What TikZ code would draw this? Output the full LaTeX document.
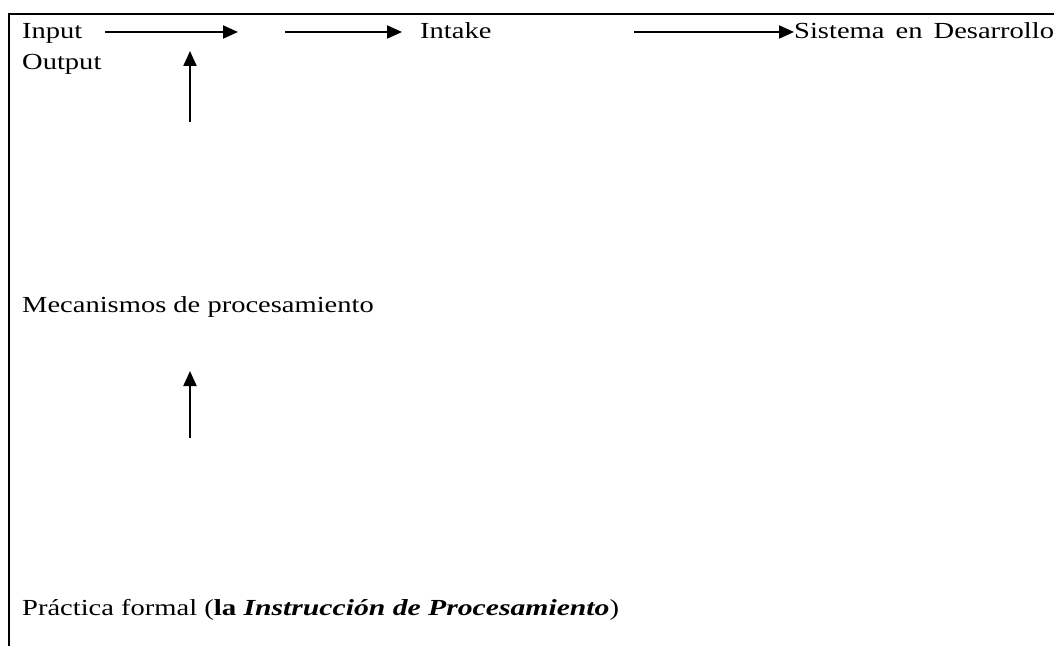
\documentclass[tikz,border=0pt]{standalone}
\usepackage{fontspec}
\setmainfont{Liberation Serif}[FakeStretch=1.24,BoldFeatures={FakeStretch=1.26},BoldItalicFeatures={FakeStretch=1.29}]
\usetikzlibrary{arrows.meta}
\begin{document}
\begin{tikzpicture}[x=1bp,y=-1bp,
  lbl/.style={anchor=base west,inner sep=0pt,font=\fontsize{23bp}{27bp}\selectfont},
  conn/.style={line width=2.1bp,-{Triangle[length=15bp,width=13bp]}},
  frame/.style={line width=2bp}]
\useasboundingbox (0,0) rectangle (1054,646);
% frame
\coordinate (ftl) at (8.5,14.5);
\coordinate (ftr) at (1054,14.5);
\coordinate (fbl) at (8.5,646);
\draw[frame] (fbl) -- (ftl) -- (ftr);
% texts
\node[lbl] (input) at (22,39) {Input};
\node[lbl] (output) at (22,70) {Output};
\node[lbl] (intake) at (420,39) {Intake};
\node[lbl] (sistema) at (794,39) {Sistema\hspace{4bp} en\hspace{4bp} Desarrollo};
\node[lbl] (mec) at (22,313) {Mecanismos de procesamiento};
\node[lbl] (prac) at (22,615) {Práctica formal ({\bfseries la \itshape Instrucción de Procesamiento})};
% connectors
\coordinate (a1s) at (105,32);
\coordinate (a1e) at (238,32);
\coordinate (a2s) at (285,32);
\coordinate (a2e) at (402,32);
\coordinate (a3s) at (634,32);
\coordinate (v1s) at (190,122);
\coordinate (v1e) at (190,51);
\coordinate (v2s) at (190,438);
\coordinate (v2e) at (190,371);
\draw[conn] (a1s) -- (a1e);
\draw[conn] (a2s) -- (a2e);
\draw[conn] (a3s) -- (a3s -| sistema.west);
\draw[conn] (v1s) -- (v1e);
\draw[conn] (v2s) -- (v2e);
\end{tikzpicture}
\end{document}
